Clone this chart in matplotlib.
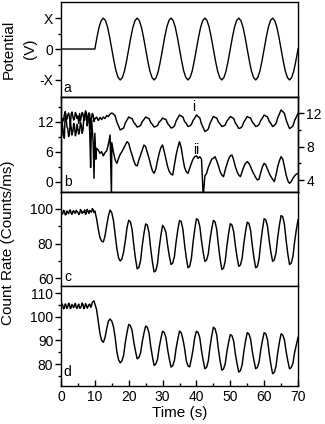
import numpy as np
import matplotlib
matplotlib.use("Agg")
import matplotlib.pyplot as plt
from matplotlib.ticker import FixedLocator

plt.rcParams['font.family'] = ['Liberation Sans', 'DejaVu Sans']

# ---------------- data ----------------
# panel a: applied potential (units of X)
pot_t_flat = [0.0, 10.0]
pot_v_flat = [0.0, 0.0]
pot_step = 0.625
pot_v = [0, .38, .71, .92, 1, .92, .71, .38, 0, -.38, -.71, -.92, -1, -.92, -.71, -.38,
         0, .38, .71, .92, 1, .92, .71, .38, 0, -.38, -.71, -.92, -1, -.92, -.71, -.38,
         0, .38, .71, .92, 1, .92, .71, .38, 0, -.38, -.71, -.92, -1, -.92, -.71, -.38,
         0, .38, .71, .92, 1, .92, .71, .38, 0, -.38, -.71, -.92, -1, -.92, -.71, -.38,
         0, .38, .71, .92, 1, .92, .71, .38, 0, -.38, -.71, -.92, -1, -.92, -.71, -.38,
         0, .38, .71, .92, 1, .92, .71, .38, 0, -.38, -.71, -.92, -1, -.92, -.71, -.38,
         0]

# sample times for the count-rate traces (s)
time_step = 0.5
# extra samples inside the noisy first 10 s
extra_t = [0.25, 0.75, 1.25, 1.75, 2.25, 2.75, 3.25, 3.75, 4.25, 4.75,
           5.25, 5.75, 6.25, 6.75, 7.25, 7.75, 8.25, 8.75, 9.25, 9.75]

# panel b, trace i (left axis)
trace_i = [13.0, 12.6, 13.4, 12.8, 13.3, 12.9, 13.5, 13.0, 12.7, 13.4, 13.1, 13.6, 12.9, 13.5, 13.2, 13.6, 12.8, 13.4, 12.6, 13.3,
           12.5, 12.9, 12.2, 12.8, 12.4, 12.9, 12.6, 13.2, 13.0, 13.5,
           13.7, 13.5, 13.1, 11.9, 11.1, 10.3, 10.5, 10.7, 11.7, 12.3,
           12.9, 12.7, 12.6, 11.8, 11.4, 10.9, 11.0, 11.2, 12.0, 12.4,
           12.9, 12.7, 12.6, 11.8, 11.4, 10.9, 11.0, 11.2, 11.9, 12.2,
           12.7, 12.5, 12.4, 11.6, 11.2, 10.7, 10.8, 11.1, 12.1, 12.7,
           13.3, 13.1, 12.9, 12.0, 11.6, 11.0, 11.1, 11.4, 12.2, 12.7,
           13.3, 13.0, 12.7, 11.5, 10.8, 10.0, 10.2, 10.5, 11.6, 12.3,
           13.0, 12.8, 12.7, 11.9, 11.5, 11.0, 11.1, 11.3, 12.1, 12.5,
           13.0, 12.8, 12.6, 11.7, 11.2, 10.6, 10.7, 11.0, 11.9, 12.4,
           13.0, 12.8, 12.7, 11.9, 11.5, 11.0, 11.1, 11.4, 12.2, 12.7,
           13.3, 13.1, 12.9, 12.0, 11.6, 11.0, 11.2, 11.6, 12.7, 13.5,
           14.3, 14.0, 13.6, 12.3, 11.4, 10.6, 10.8, 11.1, 12.2, 12.9,
           13.6]
extra_i = [9.2, 12.2, 13.9, 12.5, 13.7, 11.0, 13.9, 12.3, 13.8, 12.6,
           11.6, 12.1, 13.8, 12.5, 13.9, 12.2, 13.7, 10.5, 13.6, 12.0]

# panel b, trace ii (right axis)
trace_ii = [11.8, 10.4, 9.0, 11.5, 10.2, 9.6, 10.3, 9.8, 10.4, 9.7, 10.1, 9.9, 10.6, 10.0, 11.2, 12.0, 11.4, 9.5, 11.2, 8.5,
            9.6, 7.8, 7.6, 7.2, 7.4, 6.9, 7.3, 7.5, 8.3, 9.4,
            8.5, 7.3, 6.4, 6.0, 6.6, 7.1, 7.4, 7.8, 8.2, 8.6,
            8.4, 7.6, 7.0, 6.3, 5.8, 5.7, 6.4, 7.0, 7.6, 8.2,
            8.0, 7.3, 6.6, 5.8, 5.1, 4.8, 5.3, 6.3, 7.2, 7.9,
            8.2, 7.4, 6.5, 5.6, 5.0, 4.7, 4.6, 5.8, 7.0, 7.9,
            8.6, 7.9, 6.6, 5.5, 5.0, 4.8, 5.4, 6.0, 6.5, 6.8,
            6.9, 6.6, 6.8, 6.5, 2.0, 4.5, 4.8, 5.5, 6.0, 6.5,
            6.6, 6.8, 6.3, 5.7, 5.0, 4.6, 4.4, 5.2, 5.9, 6.5,
            6.9, 7.0, 6.4, 5.6, 5.0, 4.6, 4.4, 5.0, 5.6, 6.0,
            6.2, 6.0, 5.6, 5.1, 4.7, 4.3, 4.0, 4.1, 4.9, 5.6,
            6.0, 5.8, 5.3, 4.8, 4.4, 4.1, 3.8, 4.6, 5.6, 6.3,
            6.8, 6.5, 5.6, 4.6, 3.9, 3.6, 3.8, 4.2, 4.5, 4.7,
            4.8]
extra_ii = [11.0, 9.5, 12.2, 10.4, 9.2, 10.9, 9.4, 10.8, 9.3, 10.7,
            9.5, 10.9, 9.6, 11.5, 12.3, 10.5, 12.0, 5.5, 10.0, 4.2]
spike_ii_t = [10.3, 14.9]
spike_ii_v = [6.5, 2.0]

# panel c
rate_c = [98.5, 97.2, 98.8, 96.8, 98.0, 99.0, 97.5, 98.6, 97.8, 99.2, 98.1, 97.4, 98.9, 98.3, 99.5, 97.9, 98.7, 99.1, 98.2, 99.6,
          98.8, 94.5, 88.5, 83.5, 81.5, 81.0, 84.5, 90.5, 96.0, 99.4,
          97.8, 93.2, 85.3, 77.2, 71.8, 70.0, 71.2, 75.4, 81.6, 89.3,
          93.5, 92.6, 88.2, 79.1, 71.4, 65.5, 66.3, 70.2, 78.9, 86.0,
          91.4, 90.7, 86.3, 77.0, 69.5, 63.7, 64.4, 68.5, 77.6, 84.8,
          90.6, 89.2, 86.5, 78.9, 72.8, 68.0, 68.8, 72.6, 81.1, 88.0,
          93.4, 92.7, 88.4, 79.5, 71.9, 66.1, 66.9, 71.3, 80.6, 88.3,
          94.4, 93.7, 89.9, 81.8, 75.0, 69.8, 70.6, 74.1, 82.1, 88.4,
          93.4, 92.6, 88.2, 79.0, 71.1, 65.1, 65.9, 69.9, 78.7, 85.8,
          91.5, 90.8, 87.0, 78.9, 72.2, 66.9, 67.7, 71.6, 80.1, 87.0,
          92.4, 91.7, 87.6, 79.0, 71.7, 66.1, 66.9, 71.3, 80.6, 88.3,
          94.4, 93.7, 89.9, 81.8, 75.0, 69.8, 70.7, 74.7, 83.5, 90.6,
          96.2, 95.5, 91.0, 81.8, 74.0, 68.0, 68.8, 72.6, 81.1, 88.0,
          93.7]
extra_c = [97.0, 99.3, 96.6, 98.9, 97.3, 99.5, 96.9, 99.0, 97.6, 98.4,
           96.8, 99.7, 97.5, 98.0, 96.9, 99.8, 97.4, 98.5, 100.2, 98.0]

# panel d
rate_d = [104.2, 105.0, 103.8, 104.9, 104.3, 105.3, 103.9, 104.6, 105.1, 104.0, 104.8, 103.7, 104.5, 105.2, 104.1, 104.9, 104.4, 105.4, 104.7, 106.5,
          105.5, 103.2, 98.0, 93.0, 90.0, 89.2, 91.2, 95.0, 98.2, 99.1,
          98.2, 95.8, 91.3, 85.2, 81.8, 80.5, 81.4, 83.7, 89.2, 93.4,
          96.8, 96.3, 94.2, 89.3, 85.5, 82.2, 82.8, 84.7, 89.5, 93.1,
          96.1, 95.6, 93.1, 87.5, 83.1, 79.4, 80.0, 82.0, 87.0, 90.8,
          93.9, 93.4, 91.2, 86.1, 82.1, 78.7, 79.3, 81.5, 86.7, 90.6,
          94.0, 93.3, 90.6, 86.7, 81.5, 79.2, 78.8, 82.1, 86.1, 91.2,
          93.9, 93.4, 91.1, 85.7, 81.5, 78.0, 78.6, 81.3, 87.2, 91.8,
          95.6, 95.0, 92.3, 86.2, 81.3, 77.4, 77.9, 80.1, 85.3, 89.2,
          92.5, 92.0, 89.7, 84.3, 80.1, 76.6, 77.2, 79.7, 85.3, 89.7,
          93.3, 92.8, 90.6, 85.4, 81.4, 78.0, 78.6, 80.8, 86.0, 90.0,
          93.3, 92.8, 90.2, 84.4, 79.7, 75.9, 76.5, 79.0, 84.7, 89.2,
          92.8, 92.3, 90.2, 85.2, 81.3, 78.0, 78.5, 80.3, 84.9, 88.2,
          91.3]
extra_d = [105.6, 103.4, 105.5, 103.6, 105.8, 103.5, 105.3, 103.9, 105.7, 103.6,
           105.4, 103.8, 105.9, 103.5, 105.6, 103.7, 105.2, 104.0, 106.2, 106.8]

x_ticks = [0, 10, 20, 30, 40, 50, 60, 70]
pot_ticks = [-1, 0, 1]
pot_labels = ['-X', '0', 'X']

# ---------------- figure ----------------
W, H = 325, 424
fig = plt.figure(figsize=(W / 100, H / 100), dpi=100)
L, R = 61 / W, 298 / W


def add_panel(top, bot):
    return fig.add_axes([L, 1 - bot / H, R - L, (bot - top) / H])


def fx(px):
    return px / W


def fy(py):
    return 1 - py / H


def merged(t_main, v_main, t_more, v_more):
    t = np.concatenate([t_main, t_more])
    v = np.concatenate([v_main, v_more])
    o = np.argsort(t, kind='stable')
    return t[o], v[o]


ax_a = add_panel(2, 97)
ax_b = add_panel(97, 192)
ax_c = add_panel(192, 286)
ax_d = add_panel(286, 385.5)

lw = 1.05
t_grid = np.arange(len(rate_c)) * time_step

# panel a
pot_t = np.concatenate([pot_t_flat, 10 + np.arange(len(pot_v)) * pot_step])
pot_all = np.concatenate([pot_v_flat, pot_v])
ax_a.plot(pot_t, pot_all, color='black', lw=1.0)
ax_a.set_ylim(-1.55, 1.52)
ax_a.set_yticks(pot_ticks)
ax_a.set_yticklabels(pot_labels)
ax_a.yaxis.set_minor_locator(FixedLocator([-0.5, 0.5]))

# panel b
ti, vi = merged(t_grid, trace_i, extra_t, extra_i)
ax_b.plot(ti, vi, color='black', lw=lw)
ax_b.set_ylim(-2.1, 16.9)
ax_b.set_yticks([0, 6, 12])
ax_b.yaxis.set_minor_locator(FixedLocator([3, 9, 15]))

ax_b2 = ax_b.twinx()
tii, vii = merged(t_grid, trace_ii, extra_t + spike_ii_t, extra_ii + spike_ii_v)
ax_b2.plot(tii, vii, color='black', lw=lw)
ax_b2.set_ylim(2.56, 13.96)
ax_b2.set_yticks([4, 8, 12])
ax_b2.yaxis.set_minor_locator(FixedLocator([6, 10]))

# panel c
tc, vc = merged(t_grid, rate_c, extra_t, extra_c)
ax_c.plot(tc, vc, color='black', lw=lw)
ax_c.set_ylim(55.6, 109.8)
ax_c.set_yticks([60, 80, 100])
ax_c.yaxis.set_minor_locator(FixedLocator([70, 90]))

# panel d
td, vd = merged(t_grid, rate_d, extra_t, extra_d)
ax_d.plot(td, vd, color='black', lw=lw)
ax_d.set_ylim(70.9, 113.1)
ax_d.set_yticks([80, 90, 100, 110])
ax_d.yaxis.set_minor_locator(FixedLocator([75, 85, 95, 105]))

for ax in (ax_a, ax_b, ax_c, ax_d, ax_b2):
    ax.set_xlim(0, 70)
    for s in ax.spines.values():
        s.set_linewidth(1.0)
        s.set_color('black')

for ax in (ax_a, ax_b, ax_c, ax_d):
    ax.tick_params(axis='y', which='major', direction='out', length=4, width=1,
                   labelsize=10, pad=1.5, right=False)
    ax.tick_params(axis='y', which='minor', direction='out', length=2, width=1, right=False)

ax_b2.tick_params(axis='y', which='major', direction='out', length=4, width=1,
                  labelsize=10, pad=2, left=False, right=True)
ax_b2.tick_params(axis='y', which='minor', direction='out', length=2, width=1,
                  left=False, right=True)

for ax in (ax_a, ax_b, ax_c, ax_b2):
    ax.tick_params(axis='x', which='both', bottom=False, top=False, labelbottom=False)

ax_d.set_xticks(x_ticks)
ax_d.xaxis.set_minor_locator(FixedLocator([5, 15, 25, 35, 45, 55, 65]))
ax_d.tick_params(axis='x', which='major', direction='in', length=4, width=1,
                 labelsize=10, pad=3, top=False)
ax_d.tick_params(axis='x', which='minor', direction='in', length=2.5, width=1, top=False)

# labels
fig.text(fx(179.5), fy(413), 'Time (s)', ha='center', va='center', fontsize=11)
fig.text(fx(8.5), fy(243), 'Count Rate (Counts/ms)', rotation=90, ha='center', va='center', fontsize=11)
fig.text(fx(8.5), fy(49), 'Potential', rotation=90, ha='center', va='center', fontsize=11)
fig.text(fx(30.5), fy(49), '(V)', rotation=90, ha='center', va='center', fontsize=11)

for txt, py in (('a', 88), ('b', 182), ('c', 277), ('d', 372)):
    fig.text(fx(67.5), fy(py), txt, ha='center', va='center', fontsize=10)

fig.text(fx(193.5), fy(107), 'i', ha='center', va='center', fontsize=10)
fig.text(fx(196), fy(150), 'ii', ha='center', va='center', fontsize=10)

fig.savefig('out.png', dpi=100)
